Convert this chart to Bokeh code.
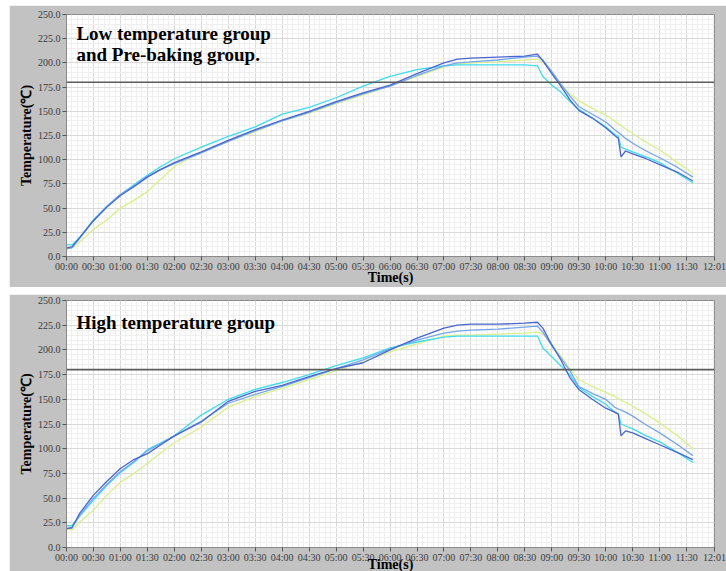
from bokeh.plotting import figure
from bokeh.models import FixedTicker, Span, Label, NumeralTickFormatter, Range1d
from bokeh.layouts import column
from bokeh.embed import file_html
from bokeh.resources import INLINE

# ---------------- data ----------------
TIME_S = [0, 6, 15, 30, 45, 60, 75, 90, 105, 120, 150, 180, 210, 240, 270, 300, 330, 360,
          390, 420, 435, 450, 480, 510, 524, 530, 540, 550, 560, 570, 585, 600, 610, 614,
          617, 622, 630, 645, 660, 680, 697]

# Low temperature group and Pre-baking group
LOW_DARK_BLUE = [9, 10, 20, 37, 51, 63, 72, 82, 90, 97, 108, 120, 131, 141, 150, 160, 169, 177,
                 189, 200, 204, 205, 206, 207, 209, 202, 189, 176, 162, 151, 143, 133, 125, 122,
                 103, 109, 106, 101, 95, 87, 78]
LOW_MID_BLUE = [8, 9, 19, 37, 52, 64, 73, 83, 90, 96, 107, 119, 130, 140, 149, 159, 168, 176,
                187, 197, 200, 201, 203, 206, 207, 203, 191, 178, 166, 155, 147, 139, 131, 128,
                126, 122, 117, 109, 102, 92, 82]
LOW_CYAN = [12, 12, 20, 38, 52, 64, 74, 84, 93, 101, 113, 124, 134, 147, 154, 164, 176, 186,
            193, 197, 198, 198, 198, 198, 197, 186, 177, 170, 160, 152, 143, 134, 126, 124,
            113, 111, 108, 103, 97, 86, 76]
LOW_YELLOW = [9, 9, 15, 28, 38, 50, 58, 67, 80, 93, 108, 119, 129, 140, 148, 158, 167, 176,
              186, 196, 199, 200, 201, 203, 204, 201, 191, 178, 168, 161, 153, 146, 140, 137,
              135, 132, 127, 118, 110, 97, 86]

# High temperature group
HIGH_DARK_BLUE = [19, 20, 35, 53, 67, 80, 89, 95, 104, 113, 127, 148, 158, 164, 173, 181, 187,
                  200, 212, 222, 225, 226, 226, 227, 228, 222, 205, 190, 172, 160, 150, 141, 137,
                  135, 113, 118, 116, 110, 104, 96, 89]
HIGH_MID_BLUE = [19, 20, 33, 50, 64, 77, 87, 98, 105, 113, 128, 146, 155, 163, 172, 181, 190,
                 201, 210, 217, 219, 220, 221, 223, 224, 218, 204, 192, 179, 163, 156, 150, 142,
                 140, 139, 137, 133, 124, 116, 104, 93]
HIGH_CYAN = [22, 22, 32, 48, 63, 76, 86, 99, 106, 113, 134, 150, 160, 167, 175, 184, 192, 202,
             208, 213, 214, 214, 214, 214, 214, 202, 193, 184, 175, 162, 153, 145, 137, 135,
             125, 123, 120, 113, 107, 96, 86]
HIGH_YELLOW = [18, 18, 26, 38, 53, 66, 75, 85, 96, 106, 122, 142, 153, 161, 170, 179, 188, 198,
               206, 214, 215, 215, 216, 217, 218, 216, 206, 194, 181, 170, 163, 157, 153, 151,
               149, 147, 143, 135, 126, 113, 100]

THRESHOLD = 180
X_MAX = 721
Y_MAX = 250
X_TICKS = [0, 30, 60, 90, 120, 150, 180, 210, 240, 270, 300, 330, 360, 390, 420, 450, 480,
           510, 540, 570, 600, 630, 660, 690, 721]
X_TICK_LABELS = ["00:00", "00:30", "01:00", "01:30", "02:00", "02:30", "03:00", "03:30",
                 "04:00", "04:30", "05:00", "05:30", "06:00", "06:30", "07:00", "07:30",
                 "08:00", "08:30", "09:00", "09:30", "10:00", "10:30", "11:00", "11:30", "12:01"]
Y_TICKS = [0, 25, 50, 75, 100, 125, 150, 175, 200, 225, 250]

# ---------------- style ----------------
COLORS = {"yellow": "#d9ef8a", "cyan": "#3fdcef", "mid": "#74a6ee", "dark": "#4866cf"}
SERIF = "Liberation Serif"
PANEL_GRAY = "#c2c2c2"


def make_panel(series, title_lines, title_y, height, border_top, border_left, xlabel_standoff):
    p = figure(width=717, height=height,
               output_backend="svg", toolbar_location=None,
               x_range=Range1d(0, X_MAX), y_range=Range1d(0, Y_MAX),
               min_border_left=border_left, min_border_right=12,
               min_border_top=border_top, min_border_bottom=0)
    p.border_fill_color = PANEL_GRAY
    p.background_fill_color = "white"
    p.outline_line_color = "#8a8a8a"

    p.xaxis.ticker = FixedTicker(ticks=X_TICKS, minor_ticks=list(range(0, X_MAX, 6)))
    p.yaxis.ticker = FixedTicker(ticks=Y_TICKS, minor_ticks=list(range(0, Y_MAX + 1, 5)))
    p.xaxis.major_label_overrides = {t: l for t, l in zip(X_TICKS, X_TICK_LABELS)}
    p.yaxis.formatter = NumeralTickFormatter(format="0.0")

    for ax in (p.xaxis[0], p.yaxis[0]):
        ax.major_label_text_font = SERIF
        ax.major_label_text_font_size = "10px"
        ax.major_label_text_color = "#3a3a3a"
        ax.axis_line_color = "#8a8a8a"
        ax.major_tick_line_color = "#555555"
        ax.major_tick_in = 0
        ax.major_tick_out = 4
        ax.minor_tick_line_color = None
        ax.major_label_standoff = 2
        ax.axis_label_text_font = SERIF
        ax.axis_label_text_font_style = "bold"
        ax.axis_label_text_font_size = "14px"
        ax.axis_label_text_color = "black"
    p.yaxis.axis_label = "Temperature(℃)"
    p.yaxis.axis_label_standoff = 1
    p.xaxis.axis_label = "Time(s)"
    p.xaxis.axis_label_standoff = xlabel_standoff
    p.xaxis.major_label_standoff = 0

    for g in (p.xgrid[0], p.ygrid[0]):
        g.grid_line_color = "#d9d9d9"
        g.grid_line_width = 1
        g.minor_grid_line_color = "#efefef"
        g.minor_grid_line_width = 1

    for key in ("yellow", "cyan", "mid", "dark"):
        p.line(TIME_S, series[key], line_color=COLORS[key], line_width=1.3)

    p.add_layout(Span(location=THRESHOLD, dimension="width", line_color="#5c5c5c",
                      line_width=1.6))

    for i, line in enumerate(title_lines):
        p.add_layout(Label(x=11, y=title_y - i * 21.5, text=line, text_font=SERIF,
                           text_font_style="bold", text_font_size="19px",
                           text_color="black", text_baseline="alphabetic"))
    return p


p1 = make_panel({"yellow": LOW_YELLOW, "cyan": LOW_CYAN, "mid": LOW_MID_BLUE,
                 "dark": LOW_DARK_BLUE},
                ["Low temperature group", "and Pre-baking group."], 230,
                height=282, border_top=9, border_left=57, xlabel_standoff=-5)
p2 = make_panel({"yellow": HIGH_YELLOW, "cyan": HIGH_CYAN, "mid": HIGH_MID_BLUE,
                 "dark": HIGH_DARK_BLUE},
                ["High temperature group"], 228,
                height=280, border_top=6, border_left=55, xlabel_standoff=-9)

layout = column(p1, p2, spacing=7, margin=(5, 0, 0, 9), height=566,
                styles={"overflow": "hidden"})

open("out.html", "w").write(file_html(layout, INLINE))
